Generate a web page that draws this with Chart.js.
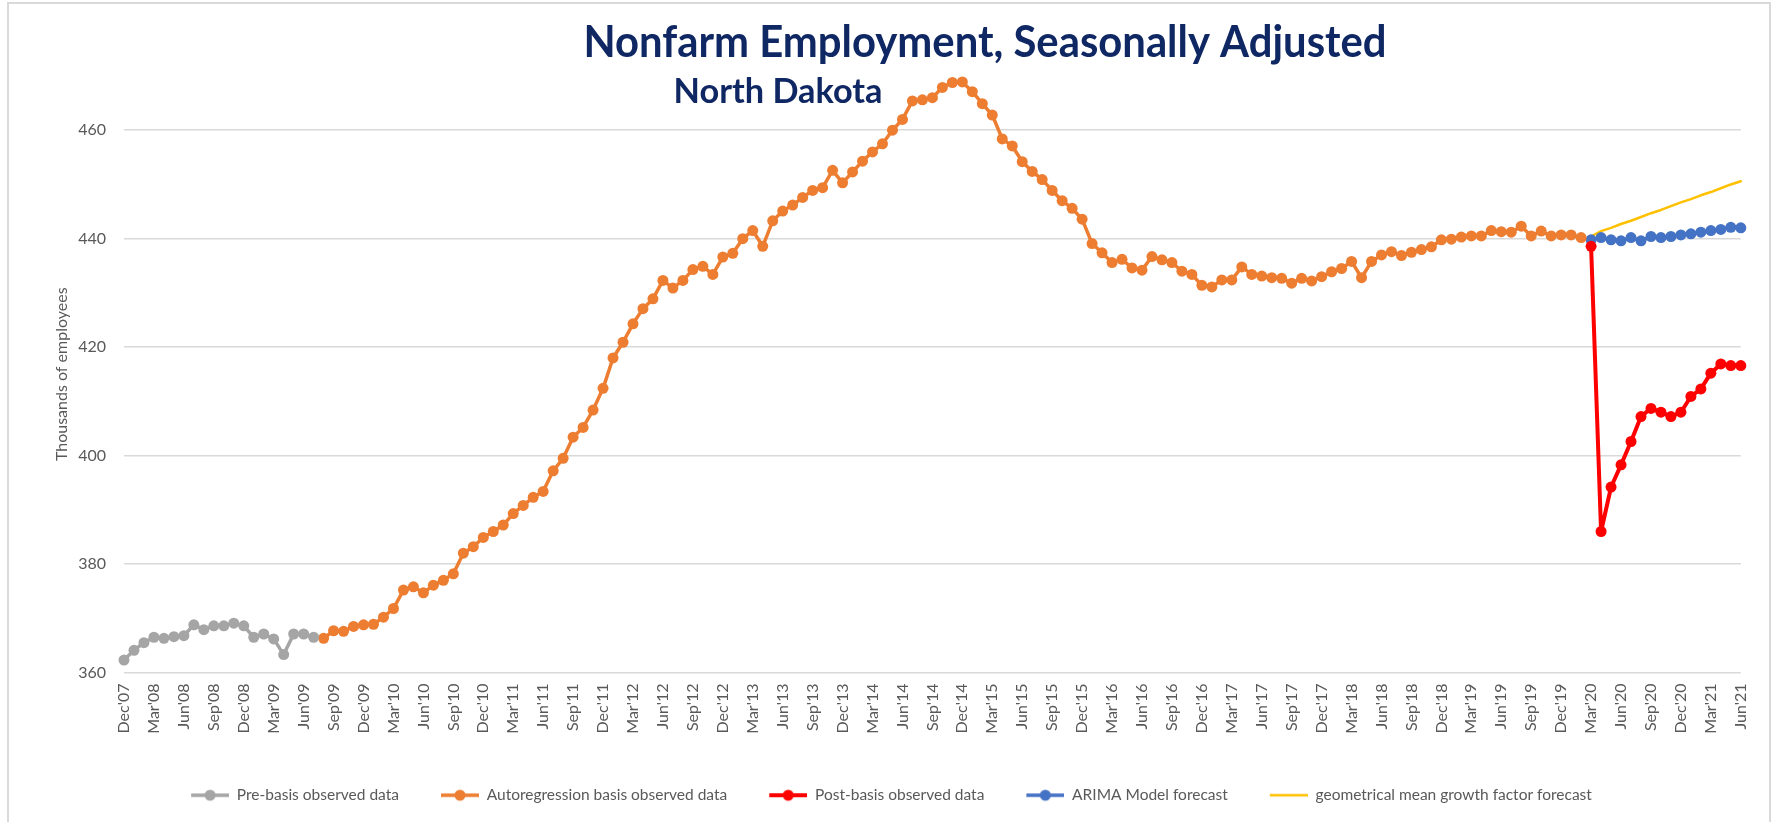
<!DOCTYPE html>
<html>
<head>
<meta charset="utf-8">
<title>Nonfarm Employment, Seasonally Adjusted</title>
<script src="https://cdn.jsdelivr.net/npm/chart.js@4.4.1/dist/chart.umd.min.js"></script>
<style>
  html, body { margin: 0; padding: 0; background: #fff; }
  #wrap { position: relative; width: 1771px; height: 822px; overflow: hidden; }
  #wrap canvas { position: absolute; left: 0; top: 0; }
  #frame { position: absolute; left: 7px; top: 2px; width: 1764px; height: 840px;
           border: 2px solid #d9d9d9; box-sizing: border-box; pointer-events: none; }
</style>
</head>
<body>
<div id="wrap">
  <canvas id="chart" width="1771" height="822"></canvas>
  <div id="frame"></div>
</div>
<script>
// monthly axis, Dec'07 .. Jun'21
const monthNames = ['Jan', 'Feb', 'Mar', 'Apr', 'May', 'Jun', 'Jul', 'Aug', 'Sep', 'Oct', 'Nov', 'Dec'];
const months = [];
for (let y = 2007; y <= 2021; y++) {
  for (let m = 0; m < 12; m++) {
    if ((y === 2007 && m < 11) || (y === 2021 && m > 5)) continue;
    months.push(monthNames[m] + "'" + String(y).slice(2));
  }
}

const yTicks = [360, 380, 400, 420, 440, 460];

// thousands of employees
const preBasisStart = 0; // Dec'07
const preBasis = [362.3, 364.1, 365.5, 366.5, 366.3, 366.6, 366.8, 368.8, 367.9, 368.6,
  368.6, 369.1, 368.6, 366.5, 367.1, 366.2, 363.3, 367.1, 367.1, 366.5];

const basisStart = 20; // Aug'09
const basis = [366.3, 367.7, 367.6, 368.5, 368.8, 368.9, 370.2, 371.8, 375.2, 375.8,
  374.7, 376.1, 377.0, 378.2, 382.0, 383.2, 384.9, 386.0, 387.2, 389.3,
  390.8, 392.3, 393.4, 397.2, 399.5, 403.4, 405.2, 408.4, 412.4, 418.0,
  420.9, 424.3, 427.1, 428.9, 432.3, 430.9, 432.3, 434.3, 434.9, 433.4,
  436.6, 437.3, 440.0, 441.5, 438.6, 443.3, 445.1, 446.2, 447.6, 448.9,
  449.4, 452.6, 450.3, 452.3, 454.3, 456.0, 457.5, 460.0, 462.0, 465.4,
  465.6, 466.0, 467.9, 468.8, 468.9, 467.1, 464.9, 462.8, 458.4, 457.1,
  454.2, 452.4, 450.9, 448.9, 447.0, 445.6, 443.6, 439.1, 437.4, 435.6,
  436.2, 434.6, 434.2, 436.7, 436.1, 435.6, 434.0, 433.4, 431.4, 431.1,
  432.4, 432.4, 434.8, 433.4, 433.1, 432.8, 432.7, 431.8, 432.7, 432.2,
  433.0, 433.9, 434.5, 435.8, 432.8, 435.8, 437.0, 437.6, 436.9, 437.5,
  438.0, 438.5, 439.8, 439.9, 440.3, 440.5, 440.5, 441.5, 441.3, 441.2,
  442.3, 440.5, 441.4, 440.5, 440.7, 440.7, 440.2];

const forecastStart = 147; // Mar'20
const postBasis = [438.6, 386.0, 394.2, 398.3, 402.6, 407.2, 408.7, 408.0, 407.2, 408.0,
  410.9, 412.3, 415.2, 416.9, 416.6, 416.6];
const arima = [439.8, 440.2, 439.8, 439.6, 440.2, 439.6, 440.4, 440.2, 440.4, 440.7,
  440.9, 441.2, 441.5, 441.7, 442.1, 442.0];
const geoMean = [440.4, 441.4, 442.0, 442.7, 443.3, 444.0, 444.7, 445.3, 446.0, 446.7,
  447.3, 448.0, 448.6, 449.3, 450.0, 450.6];

const titleText = 'Nonfarm Employment, Seasonally Adjusted';
const subtitleText = 'North Dakota';

function placeOnAxis(values, start) {
  const out = new Array(months.length).fill(null);
  values.forEach((v, i) => { out[start + i] = v; });
  return out;
}

// legend swatch: line with a dot, left part kept empty as spacing
const gapW = 32, lineW = 38;
function swatch(color, dot, lw) {
  const c = document.createElement('canvas');
  c.width = gapW + lineW; c.height = 14;
  const g = c.getContext('2d');
  g.strokeStyle = color;
  g.lineWidth = lw;
  g.beginPath(); g.moveTo(gapW, 7); g.lineTo(gapW + lineW, 7); g.stroke();
  if (dot) {
    g.fillStyle = color;
    g.beginPath(); g.arc(gapW + lineW / 2, 7, 5.5, 0, Math.PI * 2); g.fill();
  }
  return c;
}

function series(label, values, start, color, dot, lw) {
  return {
    label: label,
    data: placeOnAxis(values, start),
    borderColor: color,
    backgroundColor: color,
    borderWidth: lw,
    borderJoinStyle: 'round',
    borderCapStyle: 'round',
    pointRadius: dot ? 5.5 : 0,
    pointHoverRadius: dot ? 5.5 : 0,
    pointBorderWidth: 0,
    pointBackgroundColor: color,
    tension: 0,
    spanGaps: false,
    clip: false,
    legendIcon: swatch(color, dot, lw)
  };
}

const titles = {
  id: 'titles',
  afterLayout(chart) {
    // nudge the legend row left so it sits under the plot like the original
    chart.legend.left -= 22;
    chart.legend.right -= 22;
  },
  afterDraw(chart) {
    const ctx = chart.ctx;
    ctx.save();
    ctx.fillStyle = '#0f2763';
    ctx.textAlign = 'center';
    ctx.textBaseline = 'alphabetic';
    ctx.font = 'bold 44px Lato';
    ctx.fillText(titleText, 985, 57, 803);
    ctx.font = 'bold 35px Lato';
    ctx.fillText(subtitleText, 778, 103, 209);
    ctx.restore();
  }
};

const font = { family: 'Lato', size: 16 };
const legendFont = { family: 'Lato', size: 15.5 };

new Chart(document.getElementById('chart'), {
  type: 'line',
  data: {
    labels: months,
    datasets: [
      series('Pre-basis observed data', preBasis, preBasisStart, '#a5a5a5', true, 3.5),
      series('Autoregression basis observed data', basis, basisStart, '#ed7d31', true, 3.5),
      series('Post-basis observed data', postBasis, forecastStart, '#ff0000', true, 4),
      series('ARIMA Model forecast', arima, forecastStart, '#4472c4', true, 3.5),
      series('geometrical mean growth factor forecast', geoMean, forecastStart, '#ffc000', false, 2.5)
    ]
  },
  options: {
    responsive: false,
    devicePixelRatio: 1,
    animation: false,
    layout: { padding: { top: 76, left: 50, right: 26, bottom: 9 } },
    plugins: {
      tooltip: { enabled: false },
      title: { display: false },
      legend: {
        position: 'bottom',
        labels: {
          usePointStyle: true,
          pointStyleWidth: gapW + lineW,
          boxHeight: 14,
          padding: 10,
          color: '#595959',
          font: legendFont,
          generateLabels: (chart) => chart.data.datasets.map((ds, i) => ({
            text: ds.label,
            fillStyle: ds.borderColor,
            strokeStyle: ds.borderColor,
            lineWidth: 0,
            pointStyle: ds.legendIcon,
            fontColor: '#595959',
            hidden: false,
            datasetIndex: i
          }))
        }
      }
    },
    scales: {
      x: {
        grid: { display: false, drawTicks: false },
        border: { display: false },
        ticks: {
          autoSkip: false,
          minRotation: 90,
          maxRotation: 90,
          padding: 11,
          color: '#595959',
          font: font,
          callback: (v, i) => (i % 3 === 0 ? months[i] : '')
        },
        afterFit: (axis) => { axis.height = 105; }
      },
      y: {
        min: 360,
        max: 470,
        grid: { color: '#d9d9d9', lineWidth: 1.5, drawTicks: false },
        border: { display: false },
        ticks: { stepSize: 20, padding: 18, color: '#595959', font: font },
        afterBuildTicks: (axis) => {
          axis.ticks = yTicks.map((v) => ({ value: v }));
        },
        title: {
          display: true,
          text: 'Thousands of employees',
          color: '#595959',
          font: font,
          padding: { top: 2, bottom: 0 }
        },
        afterFit: (axis) => { axis.width = 74; }
      }
    }
  },
  plugins: [titles]
});
</script>
</body>
</html>
